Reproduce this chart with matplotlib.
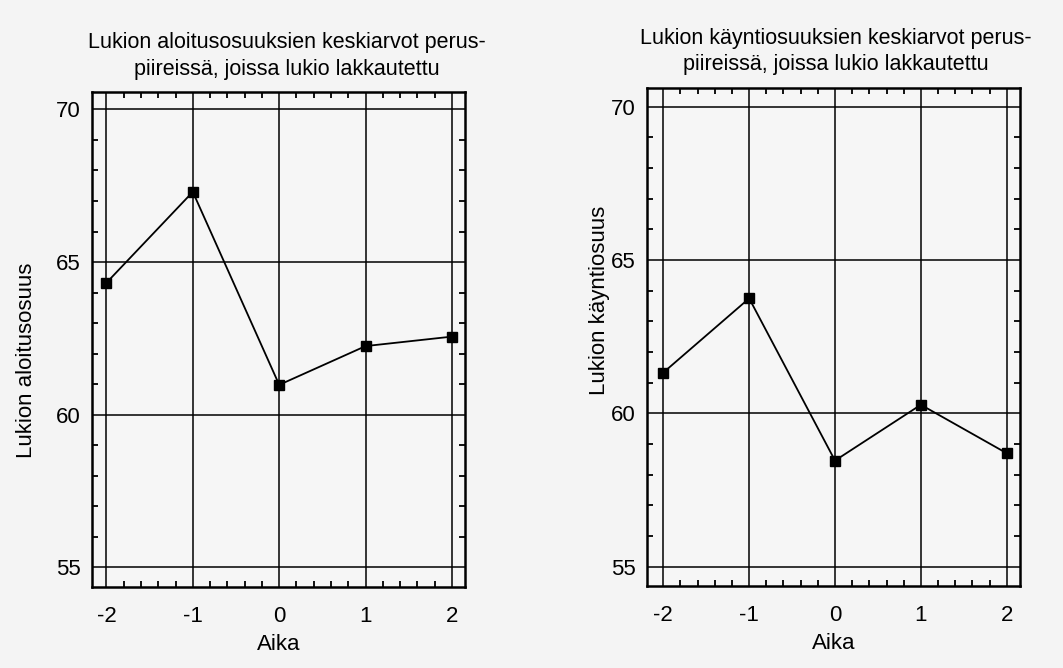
import numpy as np
import matplotlib
matplotlib.use('Agg')
import matplotlib.pyplot as plt
from matplotlib.ticker import MultipleLocator

plt.rcParams['font.family'] = ['Liberation Sans', 'DejaVu Sans']
plt.rcParams['axes.unicode_minus'] = False

# data
aika = [-2, -1, 0, 1, 2]
aloitus = [64.32, 67.30, 60.98, 62.25, 62.56]
kaynti = [61.33, 63.75, 58.46, 60.28, 58.70]

titles = ['Lukion aloitusosuuksien keskiarvot perus-\npiireissä, joissa lukio lakkautettu',
          'Lukion käyntiosuuksien keskiarvot perus-\npiireissä, joissa lukio lakkautettu']
ylabels = ['Lukion aloitusosuus', 'Lukion käyntiosuus']
xticks = [-2, -1, 0, 1, 2]
yticks = [55, 60, 65, 70]

W, H = 1063, 668
fig = plt.figure(figsize=(W / 100, H / 100), dpi=100)
fig.patch.set_facecolor('#f4f4f4')

# axes boxes in pixels: left, top, right, bottom
boxes = [(91.7, 91.7, 465, 586.7), (647, 88.3, 1020, 585.7)]
xlims = [(-2.17, 2.15), (-2.19, 2.155)]
ylims = [(54.37, 70.58), (54.38, 70.6)]
ylabel_pos = [(-0.147, 0.458), (-0.099, 0.574)]
title_pad = [12, 13]
title_x = [0.524, 0.506]

for i, vals in enumerate([aloitus, kaynti]):
    l, t, r, b = boxes[i]
    ax = fig.add_axes([l / W, 1 - b / H, (r - l) / W, (b - t) / H])
    ax.set_facecolor('#f6f6f6')
    ax.plot(aika, vals, color='black', lw=1.3, marker='s', ms=7, zorder=3)
    ax.set_xlim(*xlims[i])
    ax.set_ylim(*ylims[i])
    ax.set_xticks(xticks)
    ax.set_yticks(yticks)
    ax.xaxis.set_minor_locator(MultipleLocator(0.2))
    ax.yaxis.set_minor_locator(MultipleLocator(1))
    ax.grid(True, which='major', color='black', lw=1.1)
    ax.tick_params(which='both', direction='in', top=True, right=True,
                   labelsize=16, colors='black')
    ax.tick_params(which='major', length=0)
    ax.tick_params(axis='x', which='major', pad=14)
    ax.tick_params(axis='y', which='major', pad=8)
    ax.tick_params(which='minor', length=4, width=1.3)
    for s in ax.spines.values():
        s.set_linewidth(1.8)
    ax.set_xlabel('Aika', fontsize=16, labelpad=5)
    ax.set_ylabel(ylabels[i], fontsize=16)
    ax.yaxis.set_label_coords(*ylabel_pos[i])
    ax.set_title(titles[i], fontsize=15.5, pad=title_pad[i], linespacing=1.35,
                 x=title_x[i])

fig.savefig('out.png', dpi=100, facecolor=fig.get_facecolor())
